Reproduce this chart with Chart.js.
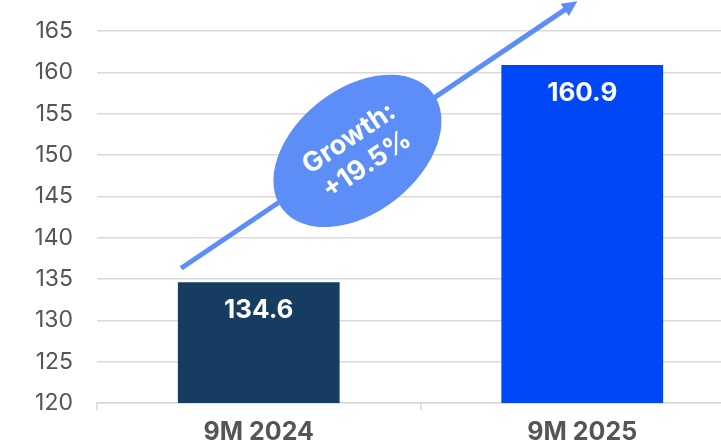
<!DOCTYPE html>
<html>
<head>
<meta charset="utf-8">
<script src="https://cdn.jsdelivr.net/npm/chart.js@4.4.1/dist/chart.umd.min.js"></script>
<style>
  html, body { margin: 0; padding: 0; background: #fff; overflow: hidden; }
  #wrap { width: 744px; height: 441px; }
</style>
</head>
<body>
<div id="wrap"><canvas id="c" width="744" height="441"></canvas></div>
<script>
// 9M revenue comparison, growth callout drawn on top of the bars.
var CATEGORIES = ["9M 2024", "9M 2025"];
var VALUES = [134.6, 160.9];
var BAR_COLORS = ["#173c62", "#0047f7"];
var Y_MIN = 120, Y_MAX = 168.75, Y_STEP = 5;
var GROWTH_LINES = ["Growth:", "+19.5%"];

// arrow / bubble anchored in data space: [category index, value]
var ARROW_FROM = [-0.24, 136.3];
var ARROW_TO = [0.985, 168.6];
var BUBBLE_AT = [0.305, 150.5];

var FONT = "Inter, 'Open Sans', 'Noto Sans', sans-serif";
var ACCENT = "#5d8ef7";
var GRID = "#d9d9d9";

var valueLabels = {
  id: "valueLabels",
  afterDatasetsDraw: function (chart) {
    var ctx = chart.ctx, meta = chart.getDatasetMeta(0);
    ctx.save();
    ctx.fillStyle = "#fff";
    ctx.font = "700 26px " + FONT;
    ctx.textAlign = "center";
    ctx.textBaseline = "middle";
    meta.data.forEach(function (bar, i) {
      ctx.fillText(VALUES[i].toFixed(1), bar.x, bar.y + 28);
    });
    ctx.restore();
  }
};

var growthCallout = {
  id: "growthCallout",
  afterDraw: function (chart) {
    var ctx = chart.ctx, xs = chart.scales.x, ys = chart.scales.y;
    var x0 = xs.getPixelForValue(ARROW_FROM[0]), y0 = ys.getPixelForValue(ARROW_FROM[1]);
    var x1 = xs.getPixelForValue(ARROW_TO[0]), y1 = ys.getPixelForValue(ARROW_TO[1]);
    var ang = Math.atan2(y1 - y0, x1 - x0);
    var head = 17;
    ctx.save();
    ctx.strokeStyle = ACCENT;
    ctx.fillStyle = ACCENT;
    ctx.lineWidth = 5;
    ctx.beginPath();
    ctx.moveTo(x0, y0);
    ctx.lineTo(x1 - Math.cos(ang) * head * 0.8, y1 - Math.sin(ang) * head * 0.8);
    ctx.stroke();
    ctx.beginPath();
    ctx.moveTo(x1, y1);
    ctx.lineTo(x1 - head * Math.cos(ang - 0.45), y1 - head * Math.sin(ang - 0.45));
    ctx.lineTo(x1 - head * Math.cos(ang + 0.45), y1 - head * Math.sin(ang + 0.45));
    ctx.closePath();
    ctx.fill();

    var cx = xs.getPixelForValue(BUBBLE_AT[0]), cy = ys.getPixelForValue(BUBBLE_AT[1]);
    ctx.beginPath();
    ctx.ellipse(cx, cy, 95, 62, -38 * Math.PI / 180, 0, Math.PI * 2);
    ctx.fill();

    ctx.translate(cx, cy);
    ctx.rotate(-34 * Math.PI / 180);
    ctx.fillStyle = "#fff";
    ctx.font = "700 27px " + FONT;
    ctx.textAlign = "center";
    ctx.textBaseline = "middle";
    ctx.fillText(GROWTH_LINES[0], 0, -15);
    ctx.fillText(GROWTH_LINES[1], 0, 17);
    ctx.restore();
  }
};

new Chart(document.getElementById("c"), {
  type: "bar",
  data: {
    labels: CATEGORIES,
    datasets: [{
      data: VALUES,
      backgroundColor: BAR_COLORS,
      barPercentage: 0.5,
      categoryPercentage: 1.0,
      borderWidth: 0
    }]
  },
  options: {
    responsive: false,
    animation: false,
    devicePixelRatio: 1,
    layout: { padding: 0 },
    plugins: { legend: { display: false }, tooltip: { enabled: false } },
    scales: {
      x: {
        grid: { drawOnChartArea: false, drawTicks: true, tickLength: 7, color: GRID, lineWidth: 1.5, offset: true },
        border: { color: GRID, width: 1.5 },
        ticks: { color: "#555", font: { family: FONT, size: 25, weight: "700" }, padding: 7 },
        afterFit: function (s) { s.height = 38; s.paddingLeft = 0; s.paddingRight = 0; }
      },
      y: {
        min: Y_MIN,
        max: Y_MAX,
        grid: { drawTicks: false, color: GRID, lineWidth: 1.5 },
        border: { display: false },
        ticks: {
          stepSize: Y_STEP,
          includeBounds: false,
          color: "#555",
          padding: 24,
          font: { family: FONT, size: 23 }
        },
        afterFit: function (s) { s.width = 97; s.paddingTop = 0; s.paddingBottom = 0; }
      }
    }
  },
  plugins: [valueLabels, growthCallout]
});
</script>
</body>
</html>
